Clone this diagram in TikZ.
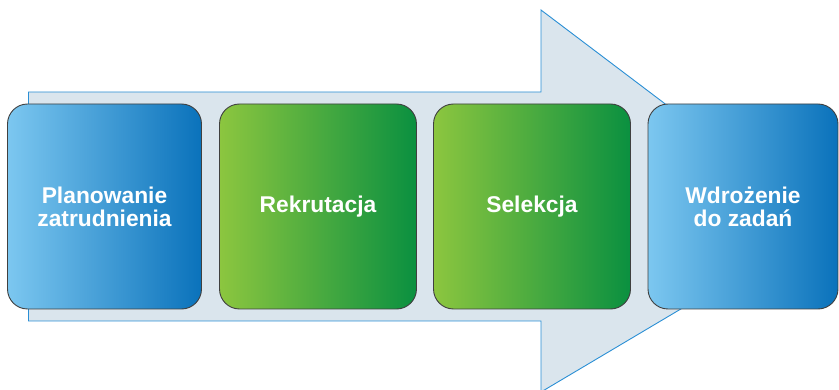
\documentclass[tikz,border=0pt]{standalone}
\usepackage{fontspec}
\setmainfont{Liberation Sans}
\usetikzlibrary{positioning}

\definecolor{arrowfill}{HTML}{DAE5ED}
\definecolor{arrowline}{HTML}{2A8FD5}
\definecolor{blueL}{HTML}{7CC7F0}
\definecolor{blueD}{HTML}{0A72BB}
\definecolor{greenL}{HTML}{8CC63F}
\definecolor{greenD}{HTML}{0A9040}

\tikzset{
  stagebox/.style={draw=black!75, line width=0.9pt, rounded corners=20pt,
    minimum height=205pt, align=center, text=white,
    font=\fontsize{22.8}{23}\selectfont\bfseries},
  bluebox/.style={stagebox, left color=blueL, right color=blueD},
  greenbox/.style={stagebox, left color=greenL, right color=greenD}
}

\begin{document}
\begin{tikzpicture}[x=1pt,y=-1pt]
      \useasboundingbox (0,0) rectangle (839,390);

      % the big arrow behind the stages
      \coordinate (BodyTL) at (28.5,92);
      \coordinate (BodyBL) at (28.5,321);
      \coordinate (NeckT)  at (541,92);
      \coordinate (NeckB)  at (541,321);
      \coordinate (HeadT)  at (541,10);
      \coordinate (HeadB)  at (541,392);
      \coordinate (Tip)    at (824,224);
      \draw [fill=arrowfill, draw=arrowline, line width=0.9pt]
            (BodyTL) -- (NeckT) -- (HeadT) -- (Tip) -- (HeadB) -- (NeckB) -- (BodyBL) -- cycle;

      % the stages
      \node[bluebox,  minimum width=194pt] (plan) at (104.5,206.5) {Planowanie\\zatrudnienia};
      \node[greenbox, minimum width=197pt] (rekr) at (318,206.5)   {Rekrutacja};
      \node[greenbox, minimum width=197pt] (sel)  at (532,206.5)   {Selekcja};
      \node[bluebox,  minimum width=190pt] (wdr)  at (743,206.5)   {Wdrożenie\\do zadań};

\end{tikzpicture}
\end{document}
